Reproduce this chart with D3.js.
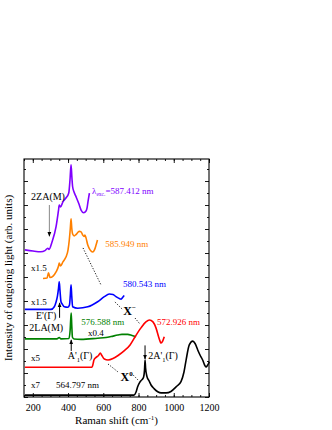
<!DOCTYPE html>
<html><head><meta charset="utf-8">
<script src="https://cdn.jsdelivr.net/npm/d3@7"></script>
<style>
body{margin:0;background:#fff}
svg{display:block}
text{font-family:"Liberation Serif","Times New Roman",serif}
</style>
</head><body>
<svg id="c" width="332" height="430"></svg>
<script>
// ---------- data (Raman shift cm^-1, intensity arb. units) ----------
const xMajor = [200, 400, 600, 800, 1000, 1200];
const xMinor = d3.range(150, 1201, 50);
const yMajor = d3.range(0, 10, 1);
const yMinor = d3.range(0.5, 10, 1);

const purple = [[155,6.13],[201,6.08],[246,6.05],[269,6.10],[285,6.20],[292,6.15],[309,6.46],[332,7.10],[346,7.79],[350,8.0],[357,7.92],[371,8.13],[388,8.29],[404,8.5],[411,9.04],[417,9.67],[422,9.13],[426,8.76],[434,8.54],[445,8.35],[462,8.04],[474,7.79],[489,7.68],[502,7.75],[508,7.88],[513,8.13],[521,8.49]];
const orange = [[258,4.94],[281,4.96],[289,5.17],[298,4.98],[315,5.04],[332,5.21],[346,5.46],[350,5.58],[357,5.46],[371,5.63],[388,5.83],[400,6.13],[407,6.54],[413,7.04],[417,7.42],[421,7.04],[426,6.79],[435,6.71],[445,6.77],[464,6.90],[474,6.88],[483,6.75],[491,6.69],[496,6.75],[502,6.63],[512,6.33],[525,6.13],[540,6.04],[550,6.13],[559,6.33],[567,6.54]];
const blue = [[155,3.65],[303,3.65],[322,3.76],[332,3.96],[340,4.21],[346,4.54],[350,4.80],[354,4.46],[360,3.97],[369,3.85],[379,3.76],[398,3.74],[408,3.83],[413,4.25],[417,4.67],[421,4.21],[426,3.76],[455,3.70],[512,3.76],[568,3.97],[606,4.18],[634,4.29],[655,4.27],[672,4.18],[691,4.10],[701,4.08],[712,4.17],[719,4.23]];
const green = [[155,2.42],[337,2.42],[350,2.48],[360,2.42],[405,2.44],[412,2.79],[415,3.21],[418,3.5],[421,3.0],[425,2.49],[434,2.42],[474,2.40],[568,2.45],[615,2.48],[644,2.52],[682,2.58],[706,2.61],[739,2.61],[763,2.56],[786,2.51]];
const red = [[155,1.24],[536,1.24],[542,1.38],[547,1.54],[559,1.65],[573,1.73],[583,1.83],[590,1.75],[606,1.58],[627,1.54],[655,1.60],[684,1.73],[718,1.92],[752,2.17],[783,2.54],[814,2.88],[842,3.13],[862,3.21],[882,3.13],[899,2.88],[916,2.46],[928,2.25],[937,2.33],[946,2.51]];
const black = [[155,0.08],[774,0.08],[786,0.21],[795,0.43],[806,0.60],[814,0.68],[823,0.75],[829,0.83],[834,1.13],[837,1.54],[840,1.21],[848,0.85],[860,0.67],[871,0.50],[888,0.35],[909,0.22],[928,0.17],[956,0.17],[984,0.23],[1013,0.42],[1041,0.64],[1058,1.04],[1070,1.54],[1088,2.17],[1108,2.33],[1121,2.23],[1136,1.96],[1149,1.75],[1164,1.54],[1174,1.35],[1183,1.25],[1191,1.31],[1202,1.47]];

const seriesColors = ["#8000ff","#ff8000","#0000ff","#008000","#ff0000","#000000"];
const seriesData = [purple, orange, blue, green, red, black];

const wlLabels = [
  {t:"587.412 nm", x:536, y:8.45, c:"#8000ff", lam:true},
  {t:"585.949 nm", x:611, y:6.25, c:"#ff8000"},
  {t:"580.543 nm", x:712, y:4.58, c:"#0000ff"},
  {t:"576.588 nm", x:475, y:3.0, c:"#008000"},
  {t:"572.926 nm", x:905, y:3.0, c:"#ff0000"},
  {t:"564.797 nm", x:332, y:0.375, c:"#000000"}
];
const scaleLabels = [
  {t:"x1.5", x:190, y:5.25},
  {t:"x1.5", x:190, y:3.83},
  {t:"x0.4", x:513, y:2.54},
  {t:"x5", x:190, y:1.5},
  {t:"x7", x:190, y:0.375}
];
const dotted = [
  [[485,6.21],[587,4.67]],
  [[666,3.96],[712,3.63]],
  [[780,3.29],[808,3.04]],
  [[627,1.375],[684,1.04]],
  [[769,0.92],[797,0.71]]
];

// ---------- layout ----------
const L = 24, R = 209, T = 159, B = 397;
const svg = d3.select("#c");
const x = d3.scaleLinear().domain([150, 1200]).range([L, R]);
const y = d3.scaleLinear().domain([0, (B - T) / 24]).range([B, T]);

const defs = svg.append("defs");
defs.append("marker").attr("id","ah").attr("viewBox","0 0 10 10").attr("refX",9).attr("refY",5)
  .attr("markerWidth",5).attr("markerHeight",5).attr("orient","auto-start-reverse")
  .append("path").attr("d","M0,1 L10,5 L0,9 z").attr("fill","#000");

const line = d3.line().x(d => x(d[0])).y(d => y(d[1])).curve(d3.curveMonotoneX);
seriesData.forEach((s, i) => {
  svg.append("path").datum(s).attr("d", line).attr("fill","none")
    .attr("stroke", seriesColors[i]).attr("stroke-width", 1.6).attr("stroke-linejoin","round");
});

dotted.forEach(seg => {
  svg.append("line").attr("x1",x(seg[0][0])).attr("y1",y(seg[0][1]))
    .attr("x2",x(seg[1][0])).attr("y2",y(seg[1][1]))
    .attr("stroke","#000").attr("stroke-width",0.9).attr("stroke-dasharray","1.2,1.6");
});

function axisG(gen, tr){ return svg.append("g").attr("transform", tr).call(gen); }
const bx = axisG(d3.axisBottom(x).tickValues(xMajor).tickSize(-4).tickPadding(7).tickFormat(d3.format("d")), `translate(0,${B})`);
axisG(d3.axisBottom(x).tickValues(xMinor).tickSize(-2).tickFormat(""), `translate(0,${B})`);
axisG(d3.axisTop(x).tickValues(xMajor).tickSize(-4).tickFormat(""), `translate(0,${T})`);
axisG(d3.axisTop(x).tickValues(xMinor).tickSize(-2).tickFormat(""), `translate(0,${T})`);
axisG(d3.axisLeft(y).tickValues(yMajor).tickSize(-4).tickFormat(""), `translate(${L},0)`);
axisG(d3.axisLeft(y).tickValues(yMinor).tickSize(-2).tickFormat(""), `translate(${L},0)`);
axisG(d3.axisRight(y).tickValues(yMajor).tickSize(-4).tickFormat(""), `translate(${R},0)`);
axisG(d3.axisRight(y).tickValues(yMinor).tickSize(-2).tickFormat(""), `translate(${R},0)`);
svg.selectAll(".domain").remove();
svg.selectAll(".tick line").attr("stroke","#000").attr("stroke-width",0.9);
bx.selectAll("text").attr("font-size",10).attr("fill","#000").attr("font-family","Liberation Serif");
svg.append("rect").attr("x",L).attr("y",T).attr("width",R-L).attr("height",B-T)
  .attr("fill","none").attr("stroke","#000").attr("stroke-width",1.1);

const xt = svg.append("text").attr("x",(L+R)/2).attr("y",424).attr("text-anchor","middle").attr("font-size",11);
xt.append("tspan").text("Raman shift (cm");
xt.append("tspan").attr("font-size",7).attr("dy",-4).text("-1");
xt.append("tspan").attr("dy",4).text(")");
svg.append("text").attr("transform",`translate(12,${(T+B)/2}) rotate(-90)`).attr("text-anchor","middle")
  .attr("font-size",11).text("Intensity of outgoing light (arb. units)");

wlLabels.forEach(l => {
  const t = svg.append("text").attr("x",x(l.x)).attr("y",y(l.y)).attr("font-size",9).attr("fill",l.c);
  if (l.lam) {
    t.append("tspan").text("λ");
    t.append("tspan").attr("font-size",5.5).attr("dy",2).text("exc.");
    t.append("tspan").attr("dy",-2).text("=" + l.t);
  } else t.text(l.t);
});
scaleLabels.forEach(l => {
  svg.append("text").attr("x",x(l.x)).attr("y",y(l.y)).attr("font-size",9).attr("fill","#000").text(l.t);
});

function ann(px, py, parts, size){
  const t = svg.append("text").attr("x",x(px)).attr("y",y(py)).attr("font-size",size||10).attr("fill","#000");
  parts.forEach(p => {
    const s = t.append("tspan").text(p.t);
    if (p.sub) s.attr("font-size",6.5).attr("dy",2.5);
    if (p.sup) s.attr("font-size",7).attr("dy",-5);
    if (p.back) s.attr("dy",p.back);
    if (p.bold) s.attr("font-weight","bold");
  });
  return t;
}
ann(190, 8.2, [{t:"2ZA(M)"}]);
ann(218, 3.27, [{t:"E'(Γ)"}]);
ann(180, 2.76, [{t:"2LA(M)"}]);
ann(398, 1.57, [{t:"A'"},{t:"1",sub:true},{t:"(Γ)",back:-2.5}]);
ann(855, 1.57, [{t:"2A'"},{t:"1",sub:true},{t:"(Γ)",back:-2.5}]);
ann(714, 3.4, [{t:"X",bold:true},{t:"−",sup:true,bold:true}], 12);
ann(698, 0.67, [{t:"X",bold:true},{t:"0",sup:true,bold:true}], 12);

function arrow(v, d1, d2, col){
  svg.append("line").attr("x1",x(v)).attr("y1",y(d1)).attr("x2",x(v)).attr("y2",y(d2))
    .attr("stroke",col||"#000").attr("stroke-width",1).attr("marker-end","url(#ah)");
}
arrow(294, 8.0, 6.7, "#888");
arrow(352, 3.30, 3.92);
arrow(418, 1.92, 2.38);
arrow(837, 2.15, 1.58);
</script>
</body></html>
